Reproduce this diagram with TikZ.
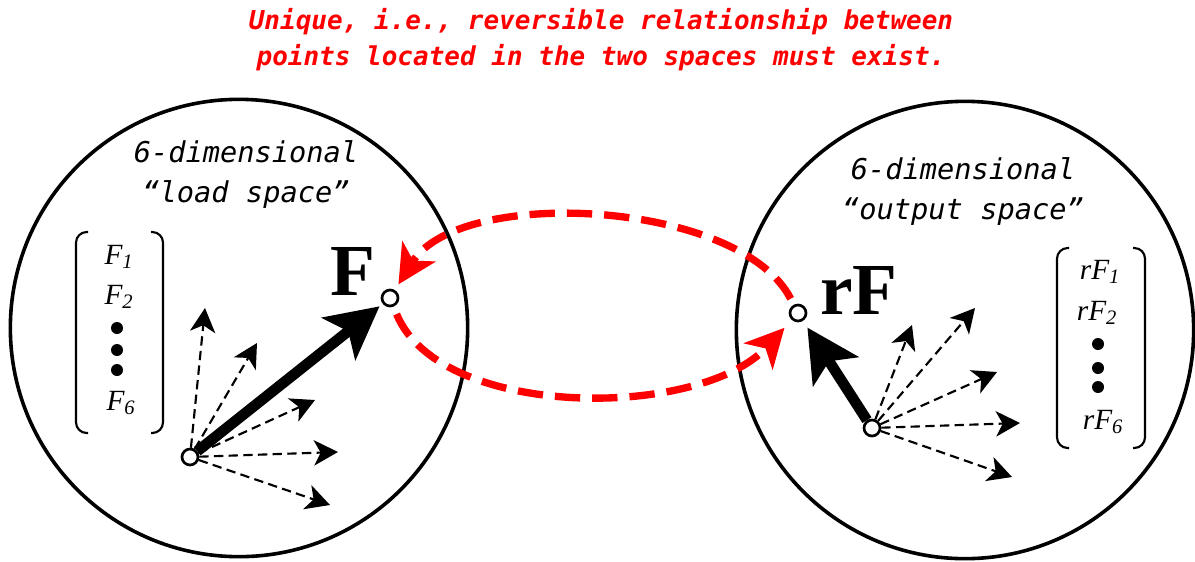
\documentclass[tikz,border=0pt]{standalone}
\usepackage{fontspec}
\setmainfont{Liberation Serif}
\setmonofont{DejaVu Sans Mono}
\usetikzlibrary{arrows.meta}
\pgfdeclarelayer{front}
\pgfsetlayers{main,front}

\begin{document}
\begin{tikzpicture}[x=0.75pt,y=-0.75pt,
  space/.style={circle,draw,line width=2.7pt,minimum size=343pt,inner sep=0pt},
  pt/.style={circle,draw,fill=white,line width=2pt,minimum size=12pt,inner sep=0pt},
  probe/.style={line width=1.6pt,dash pattern=on 7pt off 4pt,-{Stealth[length=18pt,width=19pt,inset=5pt]}},
  load/.style={line width=8pt,-{Stealth[length=39pt,width=40pt,inset=9pt]}},
  link/.style={red,line width=5.5pt,dash pattern=on 19pt off 9pt,-{Stealth[length=29pt,width=29pt,inset=8pt]}},
  lbl/.style={font=\ttfamily\itshape\fontsize{21.5}{30}\selectfont,align=center},
  ent/.style={font=\itshape\fontsize{22}{24}\selectfont},
  dot/.style={circle,fill,inner sep=0pt,minimum size=9pt},
  brk/.style={line width=1.6pt,rounded corners=8pt}]
\useasboundingbox (0,0) rectangle (1195,561);

% title
\node[font=\ttfamily\bfseries\itshape\fontsize{19.5}{27}\selectfont,text=red,align=center] (head) at (601,40)
  {Unique, i.e., reversible relationship between\\points located in the two spaces must exist.};

% the two spaces
\node[space] (load) at (239,328) {};
\node[space] (out) at (965,330) {};
\node[lbl] (loadtxt) at (246,175) {6-dimensional\\“load space”};
\node[lbl] (outtxt) at (963,192) {6-dimensional\\“output space”};

% load vector
\draw[brk] (88,232) -- (76,232) -- (76,433) -- (88,433);
\draw[brk] (151,232) -- (163,232) -- (163,433) -- (151,433);
\node[ent] (f1) at (119,257) {F\textsubscript{1}};
\node[ent] (f2) at (119,297) {F\textsubscript{2}};
\node[ent] (f6) at (121,403) {F\textsubscript{6}};
\foreach \n/\y in {1/328,2/350,3/370} \node[dot] (d\n) at (117,\y) {};

% output vector
\draw[brk] (1069,248) -- (1057,248) -- (1057,448) -- (1069,448);
\draw[brk] (1133,248) -- (1145,248) -- (1145,448) -- (1133,448);
\node[ent] (rf1) at (1100,272) {rF\textsubscript{1}};
\node[ent] (rf2) at (1097,313) {rF\textsubscript{2}};
\node[ent] (rf6) at (1103,422) {rF\textsubscript{6}};
\foreach \n/\y in {1/344,2/368,3/387} \node[dot] (e\n) at (1098,\y) {};

% points
\begin{pgfonlayer}{front}
\node[pt] (o1) at (190,457) {};
\node[pt] (fp) at (390,298) {};
\node[pt] (o2) at (872,428) {};
\node[pt] (rfp) at (798,313) {};
\end{pgfonlayer}
\node[font=\bfseries\fontsize{55}{55}\selectfont] (Flab) at (353,271) {F};
\node[font=\bfseries\fontsize{55}{55}\selectfont] (rFlab) at (859,290) {rF};

% other loads
\foreach \n/\x/\y in {1/205/308,2/257/343,3/315/400,4/338/452,5/330/505}
  {\coordinate (a\n) at (\x,\y); \draw[probe] (o1) -- (a\n);}
\foreach \n/\x/\y in {1/912/325,2/975/308,3/997/372,4/1020/423,5/1012/477}
  {\coordinate (b\n) at (\x,\y); \draw[probe] (o2) -- (b\n);}

\draw[load,shorten >=3pt] (o1) -- (fp);
\draw[load,shorten >=6pt] (o2) -- (rfp);

% mapping both ways
\draw[link,shorten <=5pt,shorten >=5pt] (rfp) .. controls (740,200) and (460,185) .. (fp);
\draw[link,shorten <=6pt,shorten >=8pt] (fp) .. controls (440,420) and (700,420) .. (rfp);
\end{tikzpicture}
\end{document}
